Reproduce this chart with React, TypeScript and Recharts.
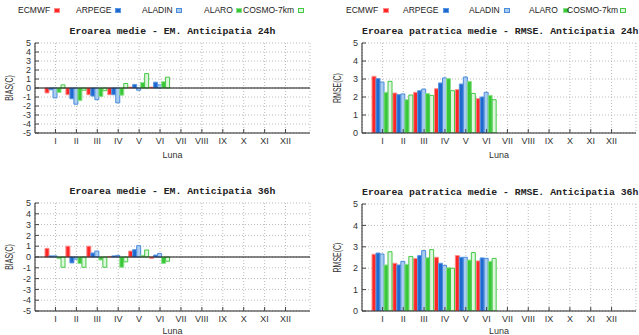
import React from "react"
import { BarChart, Bar, XAxis, YAxis, CartesianGrid, ReferenceLine, Label } from "recharts"

const months = ["I", "II", "III", "IV", "V", "VI", "VII", "VIII", "IX", "X", "XI", "XII"]
const models = ["ECMWF", "ARPEGE", "ALADIN", "ALARO", "COSMO-7km"]

// BIAS (C), anticipatia 24h, months I..VI
const bias24Ecmwf = [-0.55, -0.75, -0.75, -0.75, 0.1, 0.1]
const bias24Arpege = [-0.2, -1.2, -0.9, -0.75, 0.4, 0.65]
const bias24Aladin = [-1.1, -1.8, -1.3, -1.65, -0.25, 0.35]
const bias24Alaro = [-0.5, -1.4, -0.95, -0.8, 0.6, 0.7]
const bias24Cosmo = [0.35, -0.25, -0.3, 0.5, 1.6, 1.2]

// RMSE (C), anticipatia 24h
const rmse24Ecmwf = [3.15, 2.22, 2.26, 2.46, 2.41, 1.91]
const rmse24Arpege = [3.02, 2.13, 2.35, 2.78, 2.72, 2.0]
const rmse24Aladin = [2.83, 2.17, 2.44, 3.06, 3.11, 2.26]
const rmse24Alaro = [2.26, 1.85, 2.19, 3.02, 2.87, 2.09]
const rmse24Cosmo = [2.87, 2.11, 2.09, 2.35, 2.2, 1.85]

// BIAS (C), anticipatia 36h
const bias36Ecmwf = [0.8, 1.0, 1.0, 0.05, 0.55, -0.12]
const bias36Arpege = [0.1, -0.55, 0.37, 0.1, 0.68, 0.18]
const bias36Aladin = [0.1, -0.2, 0.55, 0.15, 1.05, 0.33]
const bias36Alaro = [-0.15, -0.6, -0.28, -0.95, 0.15, -0.6]
const bias36Cosmo = [-0.95, -0.95, -0.95, -0.45, 0.65, -0.4]

// RMSE (C), anticipatia 36h
const rmse36Ecmwf = [2.65, 2.23, 2.45, 2.51, 2.59, 2.34]
const rmse36Arpege = [2.71, 2.15, 2.59, 2.23, 2.51, 2.48]
const rmse36Aladin = [2.66, 2.32, 2.82, 2.13, 2.51, 2.46]
const rmse36Alaro = [2.15, 2.18, 2.49, 2.02, 2.38, 2.32]
const rmse36Cosmo = [2.77, 2.55, 2.87, 2.0, 2.73, 2.46]

const biasTicks = [-5, -4, -3, -2, -1, 0, 1, 2, 3, 4, 5]
const rmseTicks = [0, 1, 2, 3, 4, 5]

const fills = ["#ff2626", "#1f68cf", "#a9cbef", "#38c838", "#dcf7dc"]
const strokes = ["#ff8a8a", "#5a97e2", "#4a8cdc", "#8ae08a", "#45c845"]

const sans = "'Liberation Sans', Arial, sans-serif"
const mono = "'Liberation Mono', 'DejaVu Sans Mono', monospace"

function buildRows(series: number[][]) {
  return months.map((m, i) => {
    const row: any = { m }
    models.forEach((name, k) => {
      row[name] = i < series[k].length ? series[k][i] : null
    })
    return row
  })
}

interface PanelProps {
  left: number
  top: number
  width: number
  height: number
  margin: { top: number; right: number; left: number; bottom: number }
  yWidth: number
  xHeight: number
  labelX: number
  title: string
  yLabel: string
  series: number[][]
  ticks: number[]
  zeroLine?: boolean
}

function Panel(p: PanelProps) {
  const data = buildRows(p.series)
  const plotLeft = p.margin.left + p.yWidth
  const plotRight = p.width - p.margin.right
  const domain: [number, number] = [p.ticks[0], p.ticks[p.ticks.length - 1]]
  return (
    <div style={{ position: "absolute", left: p.left, top: p.top, width: p.width, height: p.height }}>
      <div
        style={{
          position: "absolute",
          left: plotLeft,
          width: plotRight - plotLeft,
          top: p.margin.top - 17,
          textAlign: "center",
          fontFamily: mono,
          fontWeight: "bold",
          fontSize: 9.8,
          lineHeight: "12px",
          color: "#222",
          whiteSpace: "nowrap",
        }}
      >
        {p.title}
      </div>
      <BarChart
        width={p.width}
        height={p.height}
        data={data}
        margin={p.margin}
        barCategoryGap={0}
        barGap={0}
      >
        <CartesianGrid stroke="#bbbbbb" strokeDasharray="1 2" />
        <XAxis
          dataKey="m"
          height={p.xHeight}
          padding={{ left: 10, right: 14 }}
          axisLine={{ stroke: "#222" }}
          tickSize={-4}
          tickLine={{ stroke: "#444" }}
          tickMargin={9}
          tick={{ fontSize: 9, fontFamily: sans, fill: "#333" }}
          interval={0}
        >
          <Label value="Luna" position="insideBottom" offset={1} style={{ fontSize: 9, fontFamily: sans, fill: "#333" }} />
        </XAxis>
        <XAxis xAxisId="top" dataKey="m" orientation="top" height={0} tick={false} tickLine={false} axisLine={{ stroke: "#222" }} />
        <YAxis
          width={p.yWidth}
          type="number"
          domain={domain}
          ticks={p.ticks}
          interval={0}
          allowDataOverflow
          axisLine={{ stroke: "#222" }}
          tickSize={-4}
          tickLine={{ stroke: "#444" }}
          tickMargin={8}
          tick={{ fontSize: 9, fontFamily: sans, fill: "#333" }}
        >
          <Label
            content={(lp: any) => {
              const vb = lp.viewBox || {}
              const cy = (vb.y || 0) + (vb.height || 0) / 2
              return (
                <text
                  x={0}
                  y={0}
                  transform={`translate(${p.labelX},${cy}) rotate(-90) scale(0.7,1)`}
                  textAnchor="middle"
                  dominantBaseline="central"
                  fontSize={10}
                  fontFamily={sans}
                  fill="#333"
                >
                  {p.yLabel}
                </text>
              )
            }}
          />
        </YAxis>
        <YAxis yAxisId="right" orientation="right" width={0} type="number" domain={[0, 1]} tick={false} tickLine={false} axisLine={{ stroke: "#222" }} />
        {p.zeroLine && <ReferenceLine y={0} stroke="#111" strokeWidth={1} />}
        {models.map((name, k) => (
          <Bar
            key={name}
            dataKey={name}
            fill={fills[k]}
            stroke={strokes[k]}
            strokeWidth={1}
            isAnimationActive={false}
          />
        ))}
      </BarChart>
    </div>
  )
}

function LegendRow({ left, textX, boxX }: { left: number; textX: number[]; boxX: number[] }) {
  return (
    <div style={{ position: "absolute", left, top: 0, width: 319, height: 20 }}>
      {models.map((name, k) => (
        <React.Fragment key={name}>
          <span
            style={{
              position: "absolute",
              left: textX[k],
              top: 4,
              fontSize: 8.5,
              lineHeight: "12px",
              fontFamily: sans,
              color: "#222",
              whiteSpace: "nowrap",
            }}
          >
            {name}
          </span>
          <span
            style={{
              position: "absolute",
              left: boxX[k],
              top: 8,
              width: 4,
              height: 3,
              background: fills[k],
              border: `1px solid ${strokes[k]}`,
            }}
          />
        </React.Fragment>
      ))}
    </div>
  )
}

export default function App() {
  return (
    <div style={{ position: "absolute", left: 0, top: 0, width: 639, height: 335, background: "#fff", overflow: "hidden" }}>
      <LegendRow left={0} textX={[18, 76, 142, 204, 243]} boxX={[54, 115, 176, 236, 298]} />
      <LegendRow left={320} textX={[26, 83, 149, 209, 247]} boxX={[63, 123, 184, 243, 300]} />
      <Panel
        left={0}
        top={30}
        width={320}
        height={135}
        margin={{ top: 13, right: 10, left: 0, bottom: 6 }}
        yWidth={35}
        xHeight={26}
        labelX={10}
        title="Eroarea medie - EM. Anticipatia 24h"
        yLabel="BIAS(C)"
        series={[bias24Ecmwf, bias24Arpege, bias24Aladin, bias24Alaro, bias24Cosmo]}
        ticks={biasTicks}
        zeroLine
      />
      <Panel
        left={320}
        top={30}
        width={319}
        height={135}
        margin={{ top: 13, right: 3, left: 0, bottom: 6 }}
        yWidth={42}
        xHeight={26}
        labelX={18}
        title="Eroarea patratica medie - RMSE. Anticipatia 24h"
        yLabel="RMSE(C)"
        series={[rmse24Ecmwf, rmse24Arpege, rmse24Aladin, rmse24Alaro, rmse24Cosmo]}
        ticks={rmseTicks}
      />
      <Panel
        left={0}
        top={180}
        width={320}
        height={155}
        margin={{ top: 23, right: 10, left: 0, bottom: 0 }}
        yWidth={35}
        xHeight={24}
        labelX={10}
        title="Eroarea medie - EM. Anticipatia 36h"
        yLabel="BIAS(C)"
        series={[bias36Ecmwf, bias36Arpege, bias36Aladin, bias36Alaro, bias36Cosmo]}
        ticks={biasTicks}
        zeroLine
      />
      <Panel
        left={320}
        top={180}
        width={319}
        height={155}
        margin={{ top: 24, right: 3, left: 0, bottom: 0 }}
        yWidth={42}
        xHeight={24}
        labelX={18}
        title="Eroarea patratica medie - RMSE. Anticipatia 36h"
        yLabel="RMSE(C)"
        series={[rmse36Ecmwf, rmse36Arpege, rmse36Aladin, rmse36Alaro, rmse36Cosmo]}
        ticks={rmseTicks}
      />
    </div>
  )
}
